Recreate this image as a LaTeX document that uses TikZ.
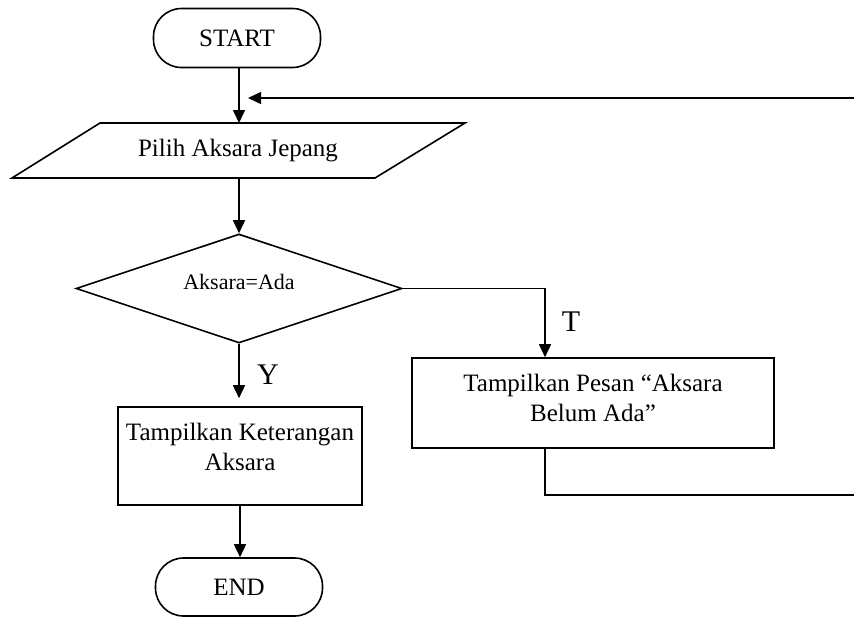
\documentclass[tikz,border=0pt]{standalone}
\usepackage{fontspec}
\setmainfont{Liberation Serif}
\usetikzlibrary{arrows.meta,shapes.geometric}
\begin{document}
\begin{tikzpicture}[x=1pt,y=-1pt,
  line width=1.6pt,
  every node/.style={inner sep=0pt},
  term/.style={draw,rounded corners=28pt,minimum width=167pt,minimum height=59pt,font=\fontsize{25}{30}\selectfont},
  txt/.style={font=\fontsize{25}{30}\selectfont,align=center},
  smalltxt/.style={font=\fontsize{22}{26}\selectfont},
  procbox/.style={draw,rectangle},
  arr/.style={-{Triangle[length=13pt,width=12pt]}},
  lbl/.style={font=\fontsize{30}{36}\selectfont}]
\useasboundingbox (0,0) rectangle (854,616);

% START
\node[term] (start) at (237,38) {START};

% input parallelogram
\coordinate (p1) at (100,123);
\coordinate (p2) at (465,123);
\coordinate (p3) at (375,178);
\coordinate (p4) at (12,178);
\draw (p1) -- (p2) -- (p3) -- (p4) -- cycle;
\node[txt] (input) at (238,151) {Pilih Aksara Jepang};
\coordinate (inT) at (239,123);
\coordinate (inB) at (239,178);

% decision
\node[draw,diamond,minimum width=326pt,minimum height=109pt] (dec) at (239,288.5) {};
\node[smalltxt] (dect) at (239,282) {Aksara=Ada};

% boxes
\node[procbox,minimum width=244pt,minimum height=98pt] (boxL) at (240,456) {};
\node[txt] (boxLt) at (240,447) {Tampilkan Keterangan\\Aksara};
\node[procbox,minimum width=362pt,minimum height=90pt] (boxR) at (593,403) {};
\node[txt] (boxRt) at (593,398) {Tampilkan Pesan “Aksara\\Belum Ada”};

% END
\node[term,minimum height=58pt] (endn) at (239,587) {END};

% loop coordinates
\coordinate (rightT) at (854,98);
\coordinate (loopIn) at (248,98);
\coordinate (rightB) at (854,495);

% connectors
\draw[arr] (start.south -| inT) -- (inT);
\draw[arr] (rightT) -- (loopIn);
\draw[arr] (inB) -- (dec.north);
\draw[arr] (dec.east) -| ([xshift=-48pt]boxR.north);
\draw[arr,shorten >=8pt] (dec.south) -- (dec.south |- boxL.north);
\draw[arr] (boxL.south) -- (boxL.south |- endn.north);
\draw ([xshift=-48pt]boxR.south) |- (rightB);

% labels
\node[lbl] (lblT) at (571,322) {T};
\node[lbl] (lblY) at (268,375) {Y};
\end{tikzpicture}
\end{document}
